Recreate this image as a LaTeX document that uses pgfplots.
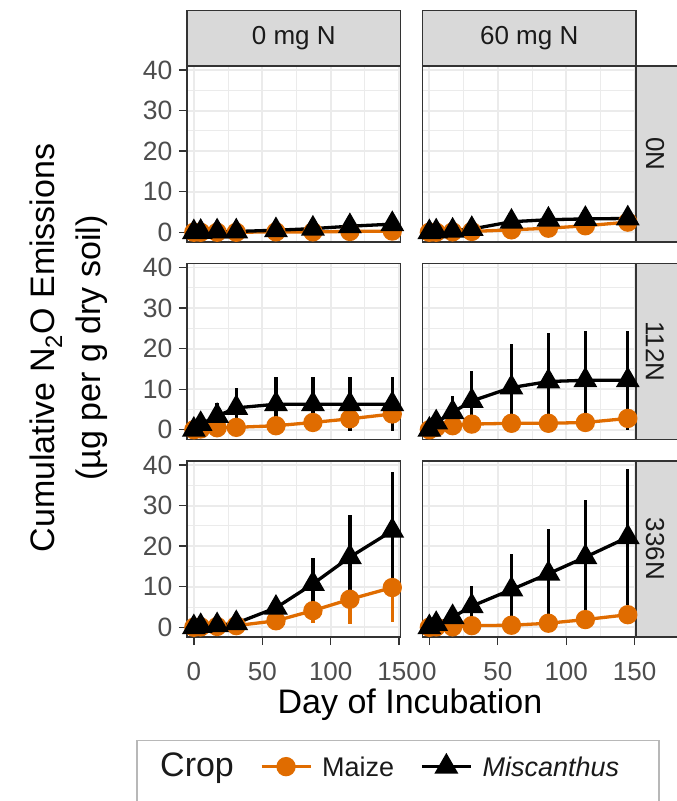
\documentclass[border=0pt]{standalone}
\usepackage{fontspec}
\setmainfont{Liberation Sans}
\usepackage{pgfplots}
\usepackage{pgfplotstable}
\pgfplotsset{compat=1.18}

\definecolor{mz}{HTML}{E06C00}
\definecolor{gtwenty}{HTML}{333333}
\definecolor{gthirty}{HTML}{4D4D4D}
\definecolor{gten}{HTML}{1A1A1A}
\definecolor{stripbg}{HTML}{D9D9D9}
\definecolor{gridc}{HTML}{EBEBEB}
\definecolor{legbox}{HTML}{B8B8B8}

% day, maize mean/sd, Miscanthus mean/sd -- one table per panel
\pgfplotstableread{
day m me s se
0 0 0.1 0 0
5 0 0.1 0.1 0.2
17 0 0.1 0.2 0.3
31 0 0.1 0.2 0.3
60 0.1 0.2 0.5 0.5
87 0.1 0.3 0.9 0.6
114 0.2 0.4 1.5 0.8
145 0.3 0.5 2.0 1.0
}\tabA
\pgfplotstableread{
day m me s se
0 0 0.1 0 0
5 0 0.1 0.2 0.2
17 0.1 0.2 0.4 0.3
31 0.2 0.2 0.8 0.5
60 0.6 0.4 2.6 0.7
87 1.0 0.6 3.1 0.8
114 1.6 0.8 3.3 0.9
145 2.5 1.0 3.4 1.0
}\tabB
\pgfplotstableread{
day m me s se
0 0 0.1 0 0
5 0.2 0.2 1.4 1.0
17 0.5 0.3 3.4 3.3
31 0.6 0.4 5.4 5.0
60 1.0 0.5 6.3 6.6
87 1.8 0.6 6.3 6.6
114 2.7 0.8 6.3 6.6
145 3.9 1.0 6.3 6.6
}\tabC
\pgfplotstableread{
day m me s se
0 0 0.1 0 0
5 0.6 0.2 1.8 1.0
17 1.0 0.3 4.3 4.1
31 1.4 0.4 7.1 7.4
60 1.6 0.4 10.4 10.7
87 1.6 0.5 11.9 11.9
114 1.8 0.6 12.2 12.2
145 2.8 0.8 12.2 12.2
}\tabD
\pgfplotstableread{
day m me s se
0 0 0.1 0 0
5 0.1 0.2 0.3 0.3
17 0.2 0.3 0.5 0.5
31 0.4 0.4 1.0 0.8
60 1.6 0.8 4.8 1.5
87 4.1 3.0 10.7 6.5
114 6.9 6.0 17.3 10.5
145 9.8 8.6 23.8 14.6
}\tabE
\pgfplotstableread{
day m me s se
0 0 0.1 0 0
5 0.1 0.1 0.8 0.5
17 0.1 0.2 2.5 1.5
31 0.4 0.3 5.2 5.0
60 0.5 0.4 9.3 8.7
87 1.0 0.6 13.2 11.1
114 1.9 0.8 17.3 14.0
145 3.1 1.0 22.2 16.8
}\tabF

\pgfplotsset{
  panel/.style={
    scale only axis, width=213.5pt, height=176pt, anchor=north west,
    xmin=-5, xmax=151, ymin=-2.4, ymax=41,
    xtick={0,50,100,150}, ytick={0,10,20,30,40},
    minor xtick={25,75,125}, minor ytick={5,15,25,35},
    grid=both,
    major grid style={line width=1.8pt, color=gridc},
    minor grid style={line width=0.9pt, color=gridc},
    axis line style={draw=gtwenty, line width=1.1pt},
    tick align=outside, major tick length=8pt, minor tick length=0pt,
    tick style={draw=gtwenty, line width=1.4pt},
    xtick pos=left, ytick pos=left,
    /pgf/number format/assume math mode=true,
    xticklabel style={font=\fontsize{26}{30}\selectfont, text=gthirty, yshift=-14pt},
    yticklabel style={font=\fontsize{26.5}{30}\selectfont, text=gthirty, xshift=-3pt},
  },
  nox/.style={xmajorticks=false, xticklabel=\empty},
  noy/.style={ymajorticks=false, yticklabel=\empty},
  maize/.style={color=mz, line width=3.3pt, mark=*, mark size=8pt,
    mark options={solid, draw=none, fill=mz},
    error bars/.cd, y dir=both, y explicit, error mark=none,
    error bar style={line width=3.3pt, color=mz}},
  misc/.style={color=black, line width=3.3pt, mark=triangle*, mark size=10.5pt,
    mark options={solid, draw=none, fill=black},
    error bars/.cd, y dir=both, y explicit, error mark=none,
    error bar style={line width=3.3pt, color=black}},
}

\begin{document}
\begin{tikzpicture}[x=1pt,y=1pt]
\useasboundingbox (0,0) rectangle (677,-801);

% facet strips
\foreach \xa/\lab in {187/{0 mg N},422.5/{60 mg N}}{
  \draw[fill=stripbg, draw=gtwenty, line width=1.1pt] (\xa,-10.5) rectangle ++(213.5,-55.5);
  \node[font=\fontsize{26}{30}\selectfont, text=gten] at (\xa+106.75,-38.5) {\lab};
}
\foreach \ya/\lab in {66/0N,263.5/112N,461/336N}{
  \draw[fill=stripbg, draw=gtwenty, line width=1.1pt] (636,-\ya) rectangle ++(60,-176);
  \node[rotate=-90, font=\fontsize{26}{30}\selectfont, text=gten] at (655,-\ya-88) {\lab};
}

\begin{axis}[panel, nox, at={(187pt,-66pt)}]
\addplot[maize] table[x=day,y=m,y error=me]{\tabA};
\addplot[misc] table[x=day,y=s,y error=se]{\tabA};
\end{axis}
\begin{axis}[panel, nox, noy, at={(422.5pt,-66pt)}]
\addplot[maize] table[x=day,y=m,y error=me]{\tabB};
\addplot[misc] table[x=day,y=s,y error=se]{\tabB};
\end{axis}
\begin{axis}[panel, nox, at={(187pt,-263.5pt)}]
\addplot[maize] table[x=day,y=m,y error=me]{\tabC};
\addplot[misc] table[x=day,y=s,y error=se]{\tabC};
\end{axis}
\begin{axis}[panel, nox, noy, at={(422.5pt,-263.5pt)}]
\addplot[maize] table[x=day,y=m,y error=me]{\tabD};
\addplot[misc] table[x=day,y=s,y error=se]{\tabD};
\end{axis}
\begin{axis}[panel, at={(187pt,-461pt)}]
\addplot[maize] table[x=day,y=m,y error=me]{\tabE};
\addplot[misc] table[x=day,y=s,y error=se]{\tabE};
\end{axis}
\begin{axis}[panel, noy, at={(422.5pt,-461pt)},
  legend columns=3,
  legend style={draw=none, fill=none, inner sep=0pt,
    at={(axis description cs:-1.2763,-0.7273)}, anchor=west,
    nodes={inner sep=0pt, anchor=base west},
    /tikz/every odd column/.append style={column sep=10pt},
    /tikz/every even column/.append style={column sep=26pt},
    font=\fontsize{27}{32}\selectfont, text=gten},
  legend image code/.code={\draw[mark repeat=2,mark phase=2,#1] plot coordinates {(0pt,9.5pt) (24.5pt,9.5pt) (49pt,9.5pt)};},
]
\addlegendimage{empty legend}
\addplot[maize] table[x=day,y=m,y error=me]{\tabF};
\addplot[misc] table[x=day,y=s,y error=se]{\tabF};
\legend{{\fontsize{34}{40}\selectfont Crop},Maize,\textit{Miscanthus}}
\end{axis}

% axis titles and legend frame
\node[rotate=90, anchor=base, font=\fontsize{34}{40}\selectfont, text=black] at (54,-348) {Cumulative N\textsubscript{2}O Emissions};
\node[rotate=90, anchor=base, font=\fontsize{34}{40}\selectfont, text=black] at (100,-348) {(µg per g dry soil)};
\node[anchor=base, font=\fontsize{34}{40}\selectfont, text=black] at (410,-713) {Day of Incubation};
\draw[legbox, line width=1.2pt] (137,-740.5) rectangle (659,-830);
\end{tikzpicture}
\end{document}
